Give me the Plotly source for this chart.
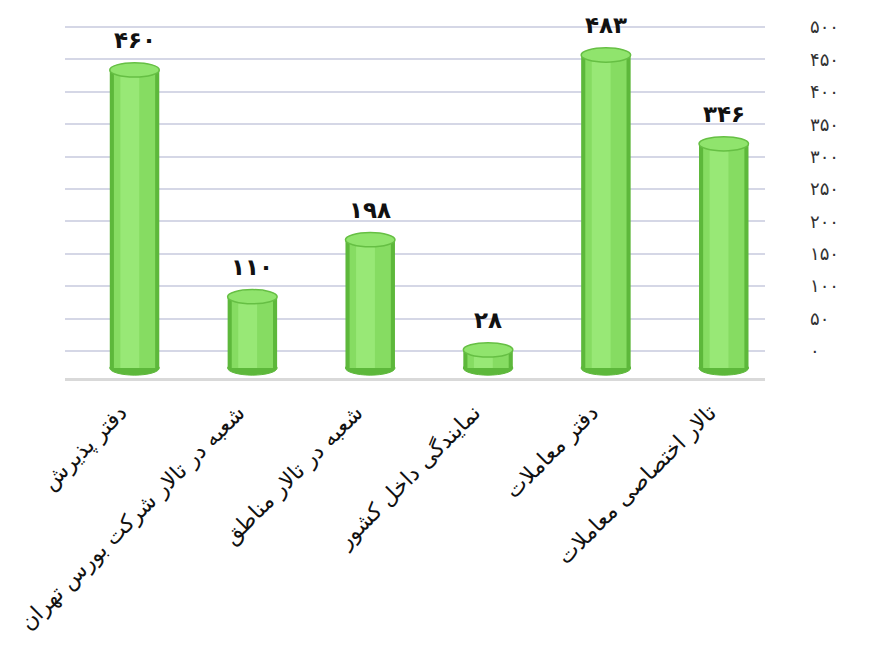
import plotly.graph_objects as go

# categories (right-to-left Persian labels) and counts
categories = [
    "دفتر پذیرش",
    "شعبه در تالار شرکت بورس تهران",
    "شعبه در تالار مناطق",
    "نمایندگی داخل کشور",
    "دفتر معاملات",
    "تالار اختصاصی معاملات",
]
counts = [460, 110, 198, 28, 483, 346]
count_labels = ["۴۶۰", "۱۱۰", "۱۹۸", "۲۸", "۴۸۳", "۳۴۶"]

tick_vals = [0, 50, 100, 150, 200, 250, 300, 350, 400, 450, 500]
tick_text = ["۰", "۵۰", "۱۰۰", "۱۵۰", "۲۰۰", "۲۵۰", "۳۰۰", "۳۵۰", "۴۰۰", "۴۵۰", "۵۰۰"]

FONT = "DejaVu Sans"
BAR_W = 0.42
CAP = 11  # half height of the cylinder caps, in data units

fig = go.Figure()

# invisible trace so the grid / tick axis is drawn
fig.add_trace(go.Scatter(x=categories, y=counts, mode="markers",
                         marker=dict(opacity=0), hoverinfo="skip",
                         showlegend=False, yaxis="y"))

# cylinder body: dark edge, main body, highlight stripe
fig.add_trace(go.Bar(x=categories, y=counts, width=BAR_W, yaxis="y2",
                     marker=dict(color="#5db83b", line_width=0),
                     showlegend=False, hoverinfo="skip"))
fig.add_trace(go.Bar(x=categories, y=counts, width=BAR_W - 0.07, yaxis="y2",
                     marker=dict(color="#86dc62", line_width=0),
                     showlegend=False, hoverinfo="skip"))
fig.add_trace(go.Bar(x=categories, y=counts, width=0.16, offset=-0.12, yaxis="y2",
                     marker=dict(color="#98e876", line_width=0),
                     showlegend=False))

# caps and labels, positioned from the data
for i, (v, lab) in enumerate(zip(counts, count_labels)):
    fig.add_shape(type="circle", xref="x", yref="y2",
                  x0=i - BAR_W / 2, x1=i + BAR_W / 2, y0=-CAP, y1=CAP,
                  fillcolor="#5db83b", line=dict(color="#5db83b", width=1),
                  layer="below")
    fig.add_shape(type="circle", xref="x", yref="y2",
                  x0=i - BAR_W / 2, x1=i + BAR_W / 2, y0=v - CAP, y1=v + CAP,
                  fillcolor="#90e46d", line=dict(color="#66bf44", width=1.5),
                  layer="above")
    fig.add_annotation(x=i, y=v, yref="y2", text="<b>" + lab + "</b>", showarrow=False,
                       yshift=30, font=dict(family=FONT, size=23, color="#111111"))

fig.update_layout(
    width=872, height=650,
    margin=dict(l=57, r=115, t=12, b=280),
    paper_bgcolor="white", plot_bgcolor="white",
    barmode="overlay",
    font=dict(family=FONT, color="#222222"),
    xaxis=dict(
        range=[-0.59, 5.35],
        tickangle=-45, tickfont=dict(family=FONT, size=22, color="#111111"),
        ticklabelshift=-14, ticklabelstandoff=10,
        showgrid=False, showline=True, linecolor="#d9d9d9", linewidth=3,
        ticks="", automargin=False,
    ),
    yaxis=dict(
        side="right", range=[-41.7, 510.8],
        tickvals=tick_vals, ticktext=tick_text,
        tickfont=dict(family=FONT, size=18, color="#333333"),
        ticklabelstandoff=44,
        showgrid=True, gridcolor="#d5d7e6", gridwidth=1.5,
        zeroline=False, showline=False, ticks="", automargin=False,
    ),
    yaxis2=dict(
        overlaying="y", range=[-15.4, 537],
        visible=False, showgrid=False, zeroline=False,
    ),
)

fig.write_html("out.html")
